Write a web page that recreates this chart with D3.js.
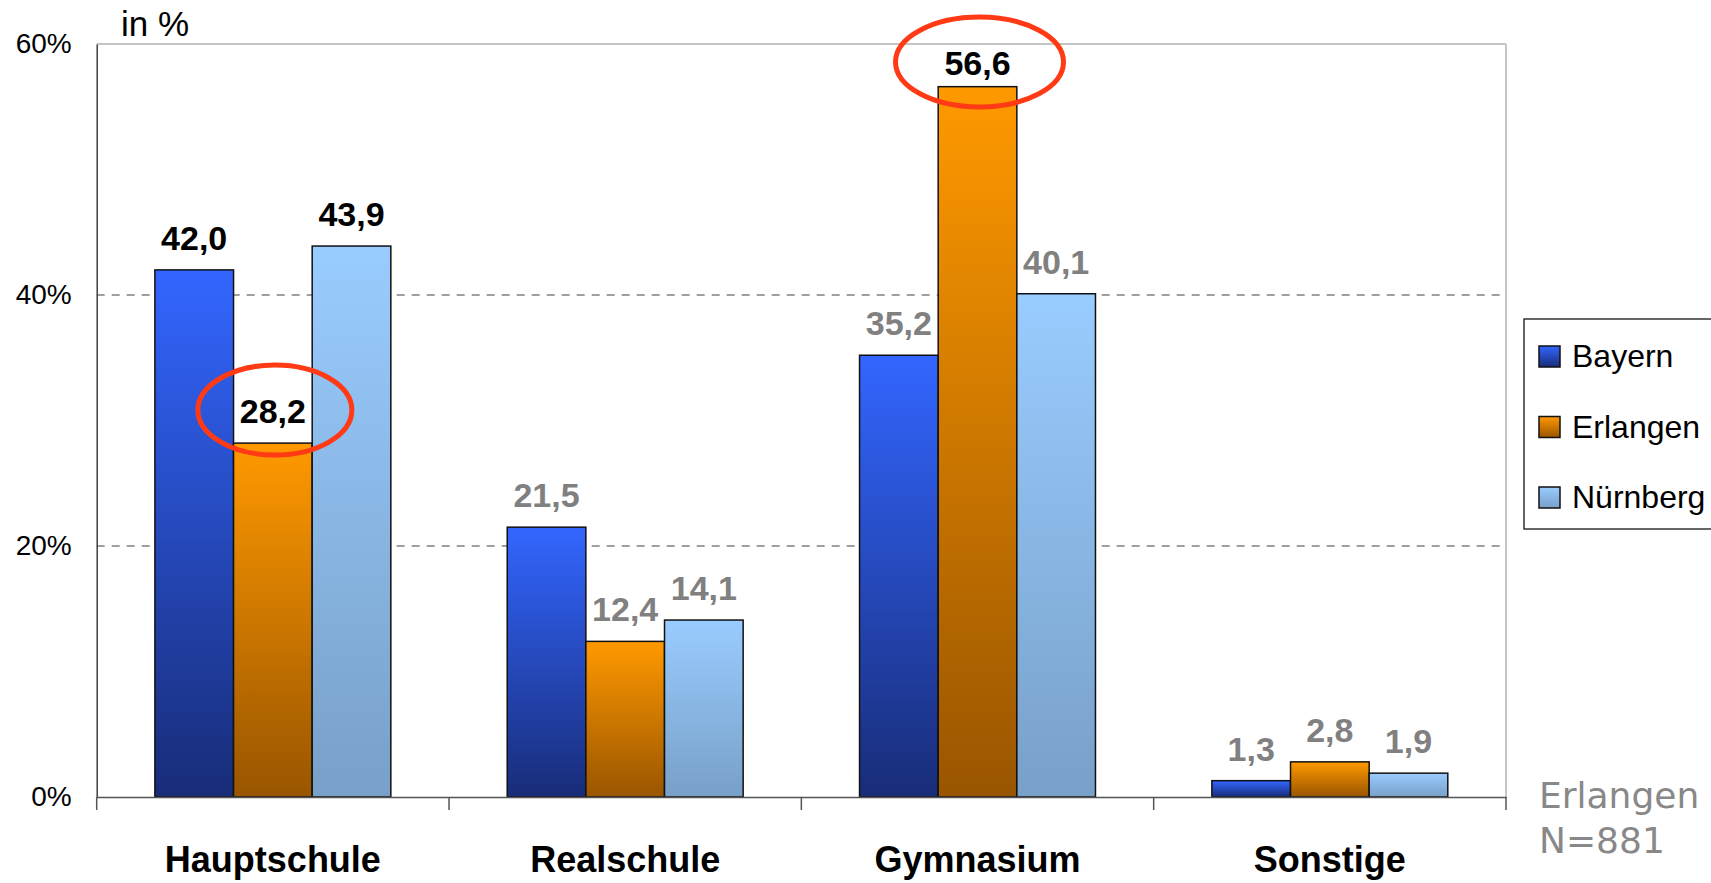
<!DOCTYPE html>
<html>
<head>
<meta charset="utf-8">
<script src="https://cdn.jsdelivr.net/npm/d3@7"></script>
<style>
  html, body { margin: 0; padding: 0; background: #fff; }
  svg { display: block; }
</style>
</head>
<body>
<svg class="chart" width="1711" height="883"></svg>
<script>
const categories = ["Hauptschule", "Realschule", "Gymnasium", "Sonstige"];
const seriesNames = ["Bayern", "Erlangen", "Nürnberg"];
const bayern = [42.0, 21.5, 35.2, 1.3];
const erlangen = [28.2, 12.4, 56.6, 2.8];
const nuernberg = [43.9, 14.1, 40.1, 1.9];
const yTicks = [0, 20, 40, 60];
// labels printed black instead of grey, and the two circled ones
const boldLabels = ["Hauptschule|Bayern", "Hauptschule|Erlangen", "Hauptschule|Nürnberg", "Gymnasium|Erlangen"];
const circled = ["Hauptschule|Erlangen", "Gymnasium|Erlangen"];

const values = [bayern, erlangen, nuernberg];
const rows = [];
categories.forEach((c, ci) => {
  seriesNames.forEach((s, si) => rows.push({cat: c, series: s, value: values[si][ci]}));
});

const gradColors = {
  "Bayern": ["#3366ff", "#182c78"],
  "Erlangen": ["#ff9900", "#995500"],
  "Nürnberg": ["#99ccff", "#78a0c8"]
};

const svg = d3.select("svg.chart");
const plotLeft = 96.7, plotRight = 1506, plotTop = 44, plotBottom = 797;

const x = d3.scaleBand().domain(categories).range([plotLeft, plotRight]).paddingInner(0).paddingOuter(0);
const xs = d3.scaleBand().domain(seriesNames).range([0, x.bandwidth()]).paddingInner(0).paddingOuter(0.74);
const y = d3.scaleLinear().domain([0, 60]).range([plotBottom, plotTop]);

const fmt = v => d3.format(".1f")(v).replace(".", ",");

// gradients
const defs = svg.append("defs");
seriesNames.forEach((s, i) => {
  const g = defs.append("linearGradient")
    .attr("id", "grad" + i)
    .attr("x1", 0).attr("y1", 0).attr("x2", 0).attr("y2", 1);
  g.append("stop").attr("offset", "0%").attr("stop-color", gradColors[s][0]);
  g.append("stop").attr("offset", "100%").attr("stop-color", gradColors[s][1]);
});

// plot frame: light top/right lines
svg.append("line")
  .attr("x1", plotLeft).attr("x2", plotRight).attr("y1", y(60)).attr("y2", y(60))
  .style("stroke", "#c4c4c4").style("stroke-width", 2);
svg.append("line")
  .attr("x1", plotRight).attr("x2", plotRight).attr("y1", y(60)).attr("y2", y(0))
  .style("stroke", "#c4c4c4").style("stroke-width", 2);

// dashed gridlines
svg.selectAll("line.grid")
  .data(yTicks.filter(t => t > 0 && t < 60))
  .enter()
  .append("line")
  .attr("class", "grid")
  .attr("x1", plotLeft).attr("x2", plotRight)
  .attr("y1", d => y(d)).attr("y2", d => y(d))
  .style("stroke", "#808080")
  .style("stroke-width", 1.5)
  .style("stroke-dasharray", "8,7");

// y axis
const yAxis = svg.append("g")
  .attr("transform", `translate(${plotLeft},0)`)
  .call(d3.axisLeft(y).tickValues(yTicks).tickSize(0).tickPadding(25).tickFormat(d => d + "%"));
yAxis.select(".domain").style("stroke", "#404040").style("stroke-width", 1.5);
yAxis.selectAll("text")
  .style("font-family", "'Liberation Sans', Arial, sans-serif")
  .style("font-size", "28px")
  .style("fill", "#000");

// bars
const barG = svg.append("g");
barG.selectAll("rect.bar")
  .data(rows)
  .enter()
  .append("rect")
  .attr("class", "bar")
  .attr("x", d => x(d.cat) + xs(d.series))
  .attr("y", d => y(d.value))
  .attr("width", xs.bandwidth())
  .attr("height", d => y(0) - y(d.value))
  .style("fill", d => `url(#grad${seriesNames.indexOf(d.series)})`)
  .style("stroke", "#111")
  .style("stroke-width", 1.5);

// x axis
const xAxis = svg.append("g")
  .attr("transform", `translate(0,${plotBottom})`)
  .call(d3.axisBottom(x).tickSize(0).tickPadding(49));
xAxis.select(".domain").style("stroke", "#555").style("stroke-width", 1.5);
xAxis.selectAll("text")
  .style("font-family", "'Liberation Sans', Arial, sans-serif")
  .style("font-size", "36px")
  .style("font-weight", "bold")
  .style("fill", "#000");
// ticks between categories
xAxis.selectAll("line.sep")
  .data(categories.concat(["end"]))
  .enter()
  .append("line")
  .attr("class", "sep")
  .attr("x1", (d, i) => i < categories.length ? x(d) : x(categories[i - 1]) + x.bandwidth())
  .attr("x2", (d, i) => i < categories.length ? x(d) : x(categories[i - 1]) + x.bandwidth())
  .attr("y1", 0).attr("y2", 13)
  .style("stroke", "#555").style("stroke-width", 1.5);

// value labels
const labelY = d => Math.max(y(d.value) - 20, y(60) + 31);
svg.selectAll("text.val")
  .data(rows)
  .enter()
  .append("text")
  .attr("class", "val")
  .attr("x", d => x(d.cat) + xs(d.series) + xs.bandwidth() / 2)
  .attr("y", labelY)
  .attr("text-anchor", "middle")
  .text(d => fmt(d.value))
  .style("font-family", "'Liberation Sans', Arial, sans-serif")
  .style("font-size", "34px")
  .style("font-weight", "bold")
  .style("fill", d => boldLabels.includes(d.cat + "|" + d.series) ? "#000" : "#808080");

// red ellipses
svg.selectAll("ellipse.mark")
  .data(rows.filter(d => circled.includes(d.cat + "|" + d.series)))
  .enter()
  .append("ellipse")
  .attr("class", "mark")
  .attr("cx", d => x(d.cat) + xs(d.series) + xs.bandwidth() / 2 + 2)
  .attr("cy", d => labelY(d) - 13)
  .attr("rx", d => d.cat === "Gymnasium" ? 84 : 77)
  .attr("ry", 45)
  .style("fill", "none")
  .style("stroke", "#ff3a14")
  .style("stroke-width", 5);

// "in %" title
svg.append("text")
  .attr("x", 121).attr("y", 36)
  .text("in %")
  .style("font-family", "'Liberation Sans', Arial, sans-serif")
  .style("font-size", "35px")
  .style("fill", "#000");

// legend
const legend = svg.append("g").attr("transform", "translate(1524,319)");
legend.append("rect")
  .attr("x", 0).attr("y", 0).attr("width", 200).attr("height", 210)
  .style("fill", "#fff").style("stroke", "#333").style("stroke-width", 1.5);
const legItems = legend.selectAll("g.item")
  .data(seriesNames)
  .enter()
  .append("g")
  .attr("class", "item")
  .attr("transform", (d, i) => `translate(15,${27 + i * 70.5})`);
legItems.append("rect")
  .attr("width", 21).attr("height", 21)
  .style("fill", (d, i) => `url(#grad${i})`)
  .style("stroke", "#111").style("stroke-width", 1.5);
legItems.append("text")
  .attr("x", 33).attr("y", 21)
  .text(d => d)
  .style("font-family", "'Liberation Sans', Arial, sans-serif")
  .style("font-size", "32px")
  .style("fill", "#000");

// sample note
const note = svg.append("text")
  .style("font-family", "'DejaVu Sans', Verdana, sans-serif")
  .style("font-size", "36px")
  .style("fill", "#888");
note.append("tspan").attr("x", 1539).attr("y", 808).text("Erlangen");
note.append("tspan").attr("x", 1539).attr("y", 853).text("N=881");
</script>
</body>
</html>
